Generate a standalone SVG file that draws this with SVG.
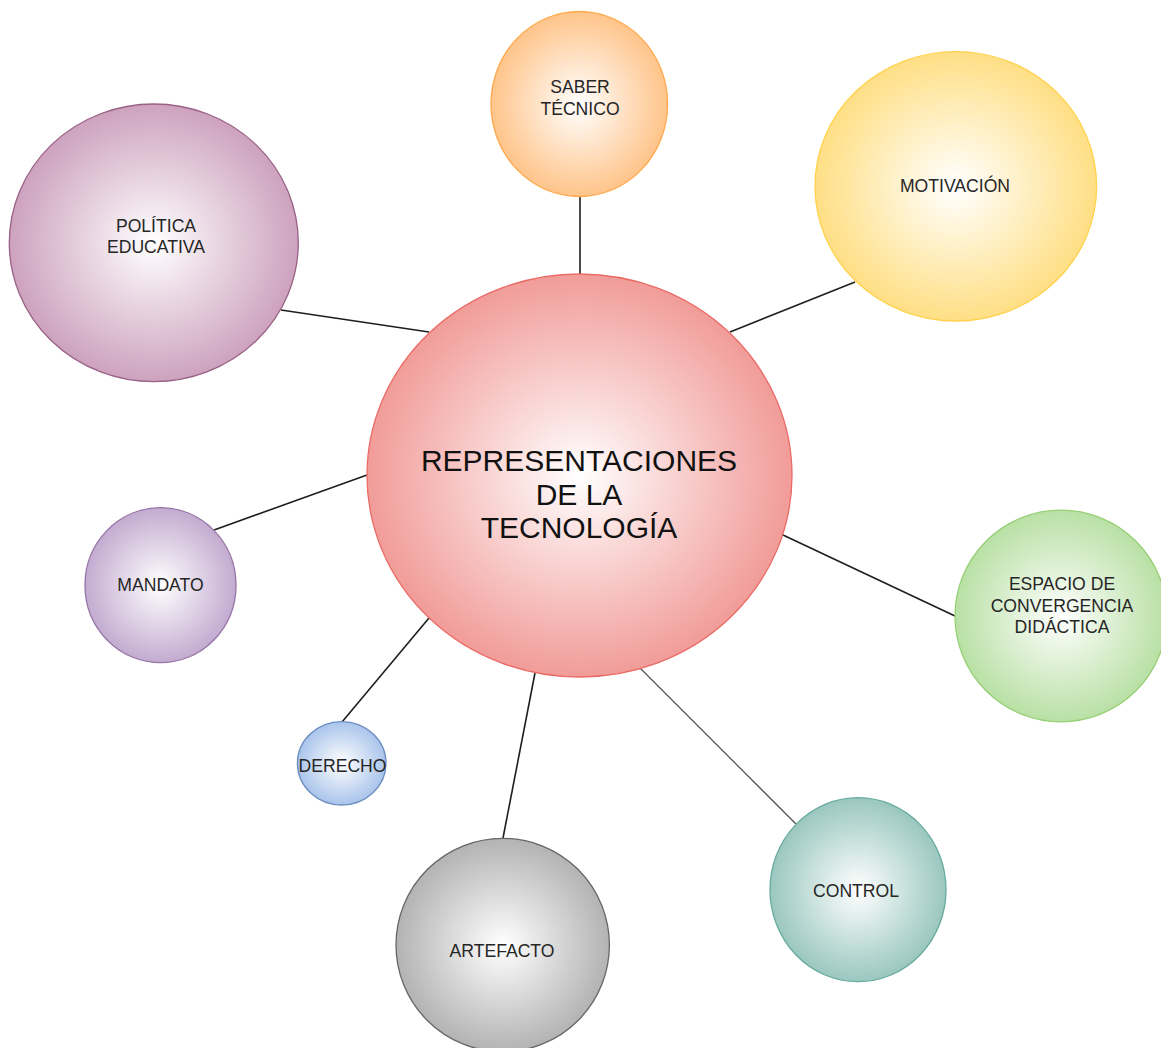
<svg xmlns="http://www.w3.org/2000/svg" width="1161" height="1048" viewBox="0 0 1161 1048">
<style>
.lbl{font-family:"Liberation Sans",Arial,Helvetica,sans-serif;font-size:17.6px;fill:#262626;text-anchor:middle}
.big{font-family:"Liberation Sans",Arial,Helvetica,sans-serif;font-size:30px;fill:#111;text-anchor:middle}
.edge{stroke:#1e1e1e;stroke-width:1.6;fill:none}
</style>
<defs>
<radialGradient id="gRed"><stop offset="0" stop-color="#fff"/><stop offset="1" stop-color="#F19C99"/></radialGradient>
<radialGradient id="gOrange"><stop offset="0" stop-color="#fff"/><stop offset="1" stop-color="#FFC48A"/></radialGradient>
<radialGradient id="gYellow"><stop offset="0" stop-color="#fff"/><stop offset="1" stop-color="#FFDF85"/></radialGradient>
<radialGradient id="gPink"><stop offset="0" stop-color="#fff"/><stop offset="1" stop-color="#CDA2BE"/></radialGradient>
<radialGradient id="gLilac"><stop offset="0" stop-color="#fff"/><stop offset="1" stop-color="#C3ABD0"/></radialGradient>
<radialGradient id="gBlue"><stop offset="0" stop-color="#fff"/><stop offset="1" stop-color="#A9C4EB"/></radialGradient>
<radialGradient id="gGrey"><stop offset="0" stop-color="#fff"/><stop offset="1" stop-color="#B3B3B3"/></radialGradient>
<radialGradient id="gTeal"><stop offset="0" stop-color="#fff"/><stop offset="1" stop-color="#9AC7BF"/></radialGradient>
<radialGradient id="gGreen"><stop offset="0" stop-color="#fff"/><stop offset="1" stop-color="#B9E0A5"/></radialGradient>
</defs>
<rect width="1161" height="1048" fill="#fff"/>
<g id="connectors">
<line class="edge" x1="580" y1="196" x2="580" y2="275"/>
<line class="edge" x1="855" y1="282" x2="730" y2="332"/>
<line class="edge" x1="281" y1="310" x2="429" y2="332"/>
<line class="edge" x1="214" y1="530" x2="367" y2="475"/>
<line class="edge" x1="342" y1="722" x2="429" y2="618"/>
<line class="edge" x1="535" y1="673" x2="503" y2="838"/>
<line class="edge" x1="640" y1="668" x2="796" y2="824" style="stroke:#555;stroke-width:1.3"/>
<line class="edge" x1="783" y1="535" x2="955" y2="616"/>
</g>
<g id="node-center">
<ellipse cx="579.5" cy="475.5" rx="212.5" ry="201.5" fill="url(#gRed)" stroke="#EA6B66" stroke-width="1.3"/>
<text class="big" x="579" y="471">REPRESENTACIONES</text>
<text class="big" x="579" y="505">DE LA</text>
<text class="big" x="579" y="538">TECNOLOGÍA</text>
</g>
<g id="node-saber">
<ellipse cx="579.3" cy="104" rx="88.3" ry="92.5" fill="url(#gOrange)" stroke="#FFA94D" stroke-width="1.3"/>
<text class="lbl" x="580" y="93">SABER</text>
<text class="lbl" x="580" y="115">TÉCNICO</text>
</g>
<g id="node-motivacion">
<ellipse cx="955.8" cy="186.3" rx="140.8" ry="134.7" fill="url(#gYellow)" stroke="#FFD24D" stroke-width="1.3"/>
<text class="lbl" x="955" y="192">MOTIVACIÓN</text>
</g>
<g id="node-politica">
<ellipse cx="153.8" cy="242.8" rx="144.5" ry="138.8" fill="url(#gPink)" stroke="#996185" stroke-width="1.3"/>
<text class="lbl" x="156" y="232">POLÍTICA</text>
<text class="lbl" x="156" y="253">EDUCATIVA</text>
</g>
<g id="node-mandato">
<ellipse cx="160.5" cy="585.2" rx="75.5" ry="77.5" fill="url(#gLilac)" stroke="#9673A6" stroke-width="1.3"/>
<text class="lbl" x="160.5" y="591">MANDATO</text>
</g>
<g id="node-derecho">
<ellipse cx="341.7" cy="763.3" rx="44.3" ry="41.7" fill="url(#gBlue)" stroke="#6C8EBF" stroke-width="1.3"/>
<text class="lbl" x="342.5" y="772">DERECHO</text>
</g>
<g id="node-artefacto">
<ellipse cx="502.7" cy="945" rx="106.7" ry="106.7" fill="url(#gGrey)" stroke="#666" stroke-width="1.3"/>
<text class="lbl" x="502" y="957">ARTEFACTO</text>
</g>
<g id="node-control">
<ellipse cx="858" cy="889.7" rx="88" ry="92" fill="url(#gTeal)" stroke="#67AB9F" stroke-width="1.3"/>
<text class="lbl" x="856" y="897">CONTROL</text>
</g>
<g id="node-espacio">
<ellipse cx="1061" cy="616" rx="106" ry="105.8" fill="url(#gGreen)" stroke="#97D077" stroke-width="1.3"/>
<text class="lbl" x="1062" y="590">ESPACIO DE</text>
<text class="lbl" x="1062" y="612">CONVERGENCIA</text>
<text class="lbl" x="1062" y="633">DIDÁCTICA</text>
</g>
</svg>
